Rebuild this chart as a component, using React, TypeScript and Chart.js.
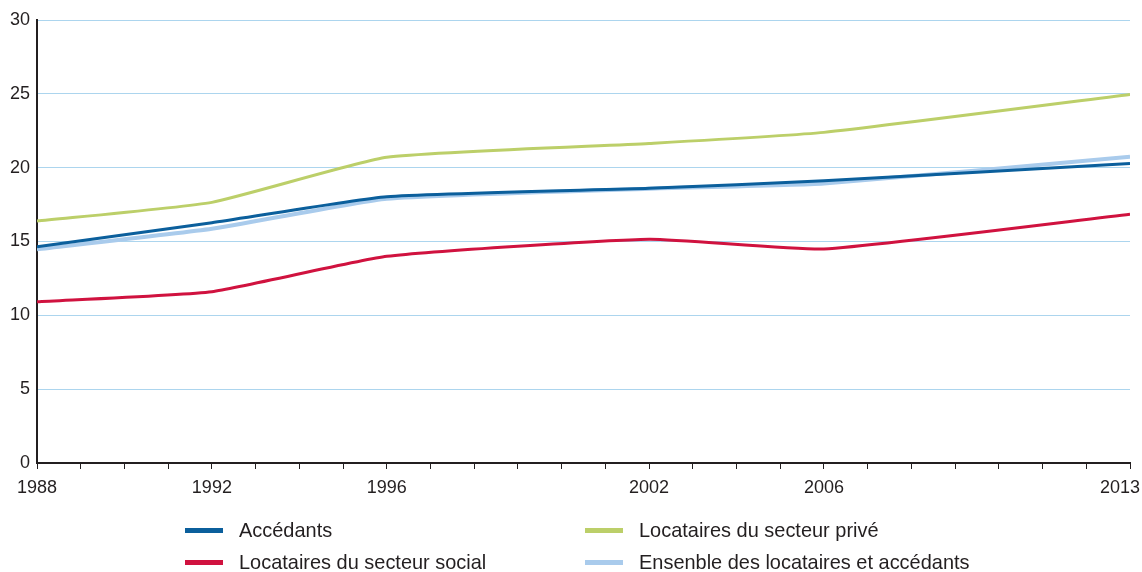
import React, { useEffect, useRef } from 'react';
import { Chart, registerables } from 'chart.js';

Chart.register(...registerables);

// Survey years (x values) and series values (%)
const years = [1988, 1992, 1996, 2002, 2006, 2013];
const accedants = [14.65, 16.27, 18.03, 18.6, 19.11, 20.29];
const locatairesPrive = [16.38, 17.65, 20.7, 21.64, 22.39, 24.96];
const locatairesSocial = [10.92, 11.6, 14.0, 15.16, 14.49, 16.84];
const ensemble = [14.47, 15.86, 17.9, 18.58, 18.93, 20.74];

// Axis labels
const xTickLabels = [1988, 1992, 1996, 2002, 2006, 2013];
const yTicks = [0, 5, 10, 15, 20, 25, 30];

const seriesNames = [
  'Accédants',
  'Locataires du secteur privé',
  'Locataires du secteur social',
  'Ensenble des locataires et accédants',
];
const seriesColors = ['#0b5f9c', '#bccf69', '#d0123f', '#a9cbec'];

const TEXT = '#231f20';
const TICK_FONT = "'Liberation Sans', Arial, sans-serif";
const LEGEND_FONT = "'Liberation Sans', Arial, sans-serif";

const toPoints = (vals: number[]) => vals.map((v, i) => ({ x: years[i], y: v }));

export default function App() {
  const canvasRef = useRef<HTMLCanvasElement>(null);

  useEffect(() => {
    if (!canvasRef.current) return;
    const lastYear = xTickLabels[xTickLabels.length - 1];
    const chart = new Chart(canvasRef.current, {
      type: 'line',
      data: {
        datasets: [
          {
            label: seriesNames[0],
            data: toPoints(accedants),
            borderColor: seriesColors[0],
            borderWidth: 3,
            order: 0,
          },
          {
            label: seriesNames[1],
            data: toPoints(locatairesPrive),
            borderColor: seriesColors[1],
            borderWidth: 3,
            order: 1,
          },
          {
            label: seriesNames[2],
            data: toPoints(locatairesSocial),
            borderColor: seriesColors[2],
            borderWidth: 3,
            order: 2,
          },
          {
            label: seriesNames[3],
            data: toPoints(ensemble),
            borderColor: seriesColors[3],
            borderWidth: 4,
            order: 3,
          },
        ],
      },
      options: {
        animation: false,
        responsive: false,
        maintainAspectRatio: false,
        layout: { padding: { top: 20, right: 12, left: 0, bottom: 0 } },
        plugins: { legend: { display: false }, tooltip: { enabled: false } },
        elements: {
          point: { radius: 0 },
          line: { tension: 0.15, borderCapStyle: 'butt', fill: false },
        },
        scales: {
          x: {
            type: 'linear',
            min: years[0],
            max: years[years.length - 1],
            ticks: {
              stepSize: 1,
              maxTicksLimit: 40,
              autoSkip: false,
              maxRotation: 0,
              minRotation: 0,
              padding: 8,
              color: TEXT,
              font: { family: TICK_FONT, size: 18 },
              callback: (v: any) => {
                const n = Number(v);
                if (!xTickLabels.includes(n)) return '';
                // last label kept inside the canvas, as in the reference
                return n === lastYear ? String(n) + '    ' : String(n);
              },
            },
            grid: {
              drawOnChartArea: false,
              drawTicks: true,
              tickLength: 6,
              color: TEXT,
              lineWidth: 1,
            },
            border: { color: TEXT, width: 2 },
            afterFit: (s: any) => {
              s.height = 109;
              s.paddingLeft = 0;
              s.paddingRight = 0;
            },
          },
          y: {
            min: yTicks[0],
            max: yTicks[yTicks.length - 1],
            afterBuildTicks: (s: any) => {
              s.ticks = yTicks.map((value) => ({ value }));
            },
            ticks: {
              padding: 7,
              color: TEXT,
              font: { family: TICK_FONT, size: 18 },
            },
            grid: { color: '#acd5ee', lineWidth: 1, drawTicks: false },
            border: { color: TEXT, width: 2 },
            afterFit: (s: any) => {
              s.width = 37;
            },
          },
        },
      },
    });
    return () => chart.destroy();
  }, []);

  const legendPos = [
    { left: 185, top: 530 },
    { left: 585, top: 530 },
    { left: 185, top: 562 },
    { left: 585, top: 562 },
  ];

  return (
    <div style={{ position: 'absolute', left: 0, top: 0, width: 1142, height: 572, background: '#fff', overflow: 'hidden' }}>
      <canvas ref={canvasRef} width={1142} height={572} style={{ display: 'block' }} />
      {seriesNames.map((name, i) => (
        <div
          key={name}
          style={{
            position: 'absolute',
            left: legendPos[i].left,
            top: legendPos[i].top - 13,
            height: 26,
            display: 'flex',
            alignItems: 'center',
            fontFamily: LEGEND_FONT,
            color: TEXT,
            whiteSpace: 'nowrap',
          }}
        >
          <span style={{ display: 'inline-block', width: 38, height: 5, background: seriesColors[i], marginRight: 16 }} />
          <span style={{ display: 'inline-block', fontSize: 21, transform: 'scaleX(0.95)', transformOrigin: 'left center' }}>{name}</span>
        </div>
      ))}
    </div>
  );
}
